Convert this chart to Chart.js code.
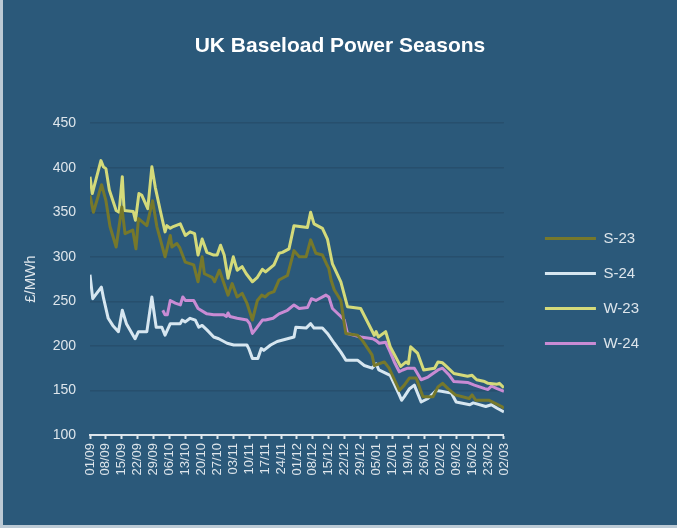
<!DOCTYPE html>
<html>
<head>
<meta charset="utf-8">
<script src="https://cdn.jsdelivr.net/npm/chart.js@4"></script>
<style>
  html, body { margin: 0; padding: 0; background: #fff; }
  #wrap { position: relative; width: 677px; height: 528px; background: #bccad5; }
  #chart { position: absolute; left: 3px; top: 0; background: #2b597a; }
</style>
</head>
<body>
<div id="wrap"><canvas id="chart" width="674" height="525"></canvas></div>
<script>
// x = days since 01/09, y = £/MWh
const tickLabels = ['01/09', '08/09', '15/09', '22/09', '29/09', '06/10', '13/10', '20/10', '27/10',
  '03/11', '10/11', '17/11', '24/11', '01/12', '08/12', '15/12', '22/12', '29/12', '05/01',
  '12/01', '19/01', '26/01', '02/02', '09/02', '16/02', '23/02', '02/03'];

const seriesNames = ['S-23', 'S-24', 'W-23', 'W-24'];

const s23 = [[0, 369], [1.5, 350], [5.1, 381], [7, 363], [8.8, 334], [11.5, 311], [14, 356], [15.4, 326],
  [18.8, 330], [20.2, 309], [21.3, 343], [25, 335], [27.5, 363], [29.4, 334], [33, 300], [35.3, 324],
  [36, 311], [38.2, 315], [39.5, 310], [41.9, 294], [45.6, 291], [47.5, 272], [49.3, 300], [50.3, 281],
  [53.7, 277], [54.8, 272], [56.9, 285], [60.7, 257], [62.5, 270], [64.7, 255], [66.9, 259], [69, 248],
  [71.4, 229], [73.6, 251], [75.5, 257], [77, 255], [78.7, 259], [80.9, 261], [83.1, 274], [86.8, 279],
  [89.7, 307], [92, 300], [95, 300], [97, 319], [99.3, 304], [102.2, 302], [104, 292], [105, 287],
  [106, 274], [107.4, 263], [110.3, 251], [111.8, 225], [112.5, 214], [117.6, 212], [119.8, 206],
  [122.7, 195], [124, 190], [125, 178], [129.4, 182], [131.5, 175], [136, 150], [138.2, 156],
  [140.5, 164], [143.4, 164], [146.4, 143], [150.8, 143], [153, 154], [155, 158], [157.4, 152],
  [160.6, 145], [166.7, 141], [168, 145], [169.6, 139], [175.5, 139], [177.7, 136], [181, 132], [182, 130]];

const s24 = [[0, 280], [1.2, 253], [5, 266], [6, 253], [8, 231], [10, 223], [12.5, 216], [14.2, 240],
  [16, 225], [19.8, 208], [21.3, 216], [25, 216], [27.2, 255], [29.1, 221], [31.6, 221], [33, 212],
  [35.3, 225], [39.7, 225], [40.5, 229], [41.9, 227], [44, 231], [46.3, 229], [47.8, 221], [49.3, 223],
  [51.4, 218], [54.4, 210], [56.6, 208], [60.3, 203], [63.2, 201], [66.2, 201], [69, 201], [69.8, 197],
  [71.4, 186], [73.8, 186], [75.3, 197], [76.4, 195], [79.4, 201], [82.3, 205], [86.8, 208], [89.7, 210],
  [90.5, 221], [95, 220], [97, 225], [98.5, 220], [102.2, 220], [104.4, 214], [107.4, 203], [110.3, 193],
  [112.5, 184], [117.6, 184], [120.6, 178], [124, 175], [125.8, 180], [127, 173], [132, 167],
  [136, 145], [137, 139], [138.2, 143], [140.5, 152], [142.6, 156], [145.6, 137], [148.6, 141],
  [152.3, 150], [154.5, 149], [158.9, 147], [161, 137], [167, 134], [168.5, 136], [174, 132],
  [176.5, 134], [179, 130], [182, 126]];

const w23 = [[0, 390], [1, 371], [4.8, 408], [5.9, 401], [7, 399], [8.5, 375], [11.5, 352], [12.8, 350],
  [14.2, 390], [15, 352], [19, 351], [20, 341], [21.5, 371], [22.8, 369], [25.4, 354], [27.2, 401],
  [28.7, 378], [30.9, 352], [33, 328], [33.8, 335], [35.3, 332], [36.6, 334], [39.7, 337], [41.9, 324],
  [44, 328], [46, 326], [47.5, 302], [49.3, 320], [51.4, 305], [54.4, 302], [55.9, 302], [57.4, 313],
  [59, 302], [60.7, 276], [63, 300], [64.7, 285], [66.9, 289], [68.7, 281], [71.4, 272], [73.6, 277],
  [75.8, 286], [77.2, 283], [80.9, 291], [83.1, 304], [84.6, 305], [87.5, 309], [89.7, 335],
  [95.6, 333], [97, 350], [98.5, 337], [102.2, 332], [104.4, 320], [106.6, 292], [110.3, 272],
  [113.2, 244], [119, 242], [125, 212], [125.8, 216], [126.8, 210], [130, 216], [132, 199],
  [136.6, 177], [139, 182], [140, 180], [141, 199], [144, 192], [146.7, 173], [151.5, 175],
  [153, 182], [155, 181], [156.7, 177], [160, 169], [166, 166], [168, 167], [170, 162],
  [173.5, 160], [175, 158], [179, 157], [180, 158], [182, 153]];

const w24 = [[32, 240], [33, 235], [34, 235], [35.3, 251], [37.5, 248], [39.7, 246], [40.8, 255],
  [41.9, 251], [45.6, 251], [47.5, 242], [51.4, 236], [54.4, 235], [58.8, 235], [60, 233], [60.7, 237],
  [61.5, 233], [64.7, 231], [69, 229], [70.2, 225], [71.4, 214], [73.2, 220], [75.8, 229], [77.2, 229],
  [80.5, 231], [83.1, 236], [86.8, 240], [89.7, 246], [92, 242], [95.6, 243], [97.4, 253], [99.3, 251],
  [103.7, 257], [105, 255], [106.6, 242], [107.4, 240], [110.3, 233], [111.8, 229], [113.2, 214],
  [119, 210], [124.3, 208], [125.8, 206], [127.2, 203], [130, 204], [132, 193], [133.8, 182],
  [136, 171], [137.5, 173], [139.7, 175], [142.6, 175], [145.6, 162], [148.6, 165], [153, 173],
  [155, 175], [158, 167], [160, 160], [166, 159], [169, 156], [173.6, 152], [175, 151],
  [176.5, 155], [179, 152], [182, 149]];

const seriesColors = ['#76782b', '#d6e6f0', '#d4da7a', '#c98bd4'];
const textColor = '#dde5eb';

Chart.defaults.font.family = '"Liberation Sans", Arial, sans-serif';

const toPoints = arr => arr.map(([d, v]) => ({ x: d, y: v }));

// extra empty room to the right of the legend (keeps the title centred on the full width)
const legendRoom = {
  id: 'legendRoom',
  afterInit(chart) {
    const lg = chart.legend;
    const fit = lg.fit;
    lg.fit = function () { fit.call(this); this.width += 28; };
  },
};

new Chart(document.getElementById('chart'), {
  type: 'line',
  data: {
    datasets: [s23, s24, w23, w24].map((arr, i) => ({
      label: seriesNames[i],
      data: toPoints(arr),
      borderColor: seriesColors[i],
      backgroundColor: seriesColors[i],
      borderWidth: 3,
      pointRadius: 0,
      tension: 0,
      borderJoinStyle: 'round',
    })),
  },
  plugins: [legendRoom],
  options: {
    responsive: false,
    animation: false,
    plugins: {
      tooltip: { enabled: false },
      title: {
        display: true,
        text: 'UK Baseload Power Seasons',
        color: '#ffffff',
        font: { size: 21, weight: 'bold' },
        padding: { top: 34, bottom: 64 },
      },
      legend: {
        position: 'right',
        align: 'start',
        maxWidth: 200,
        title: { display: true, text: ' ', font: { size: 10 }, padding: { top: 199, bottom: 0 } },
        labels: {
          usePointStyle: true,
          pointStyle: 'line',
          pointStyleWidth: 51,
          padding: 20,
          color: textColor,
          font: { size: 15 },
        },
      },
    },
    scales: {
      x: {
        type: 'linear',
        min: 0,
        max: 182,
        ticks: {
          stepSize: 7,
          autoSkip: false,
          minRotation: 90,
          maxRotation: 90,
          padding: 4,
          color: textColor,
          font: { size: 13 },
          callback: v => tickLabels[Math.round(v / 7)],
        },
        grid: { drawOnChartArea: false, tickLength: 4, tickColor: textColor, tickWidth: 2 },
        border: { color: textColor, width: 2 },
        afterFit: s => { s.height = 90; },
      },
      y: {
        min: 100,
        max: 450,
        ticks: { stepSize: 50, padding: 14, color: textColor, font: { size: 14 } },
        grid: { color: '#274f6d', lineWidth: 1.5, drawTicks: false },
        border: { display: false },
        title: { display: true, text: '£/MWh', color: textColor, font: { size: 15 }, padding: { top: 19, bottom: 0 } },
        afterFit: s => { s.width = 87; },
      },
      // empty axis only to keep the gap between plot and legend
      gap: {
        type: 'linear',
        position: 'right',
        grid: { display: false },
        ticks: { display: false },
        border: { display: false },
        afterFit: s => { s.width = 21; },
      },
    },
  },
});
</script>
</body>
</html>
